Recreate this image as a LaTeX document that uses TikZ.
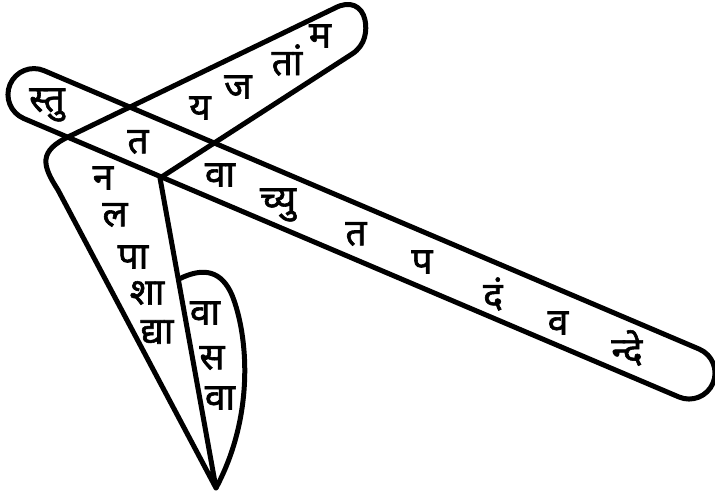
\documentclass[tikz,border=0pt]{standalone}
\usepackage{fontspec}
\newfontfamily\devfont[Script=Devanagari,FakeBold=1.6]{Noto Sans}

\begin{document}
\begin{tikzpicture}[x=1pt,y=-1pt,
  band/.style={draw=black,line width=5pt,line join=round},
  akshara/.style={font=\devfont\fontsize{37}{40}\selectfont,inner sep=0pt}]
  \useasboundingbox (0,0) rectangle (715,498);
  \draw[band] (44.2,70.7) -- (699.2,349.1) arc[start angle=66.97,delta angle=-180,radius=26pt]
    -- (23.8,118.5) arc[start angle=-113.03,delta angle=-180,radius=26pt] -- cycle;
  \draw[band] (160,178) -- (352,54) .. controls (366,45) and (367,30) .. (365,20)
    .. controls (362,6) and (350,0) .. (335,8) -- (70,136)
    .. controls (38,151) and (42,165) .. (58,190) -- (216,488) -- cycle;
  \draw[band] (179,279) .. controls (205,266) and (222,272) .. (232,295)
    .. controls (248,335) and (255,415) .. (216,488);
  \node[akshara] (stu) at (47,105) {स्तु};
  \node[akshara] (ta1) at (138,142) {त};
  \node[akshara] (va1) at (220,175) {वा};
  \node[akshara] (cyu) at (278,205) {च्यु};
  \node[akshara] (ta2) at (356,234) {त};
  \node[akshara] (pa1) at (422,262) {प};
  \node[akshara] (dam) at (493,294) {दं};
  \node[akshara] (va2) at (558,323) {व};
  \node[akshara] (nde) at (627,348) {न्दे};
  \node[akshara] (ya) at (200,108) {य};
  \node[akshara] (ja) at (238,87) {ज};
  \node[akshara] (tam) at (287,60) {तां};
  \node[akshara] (ma) at (320,36) {म};
  \node[akshara] (na) at (103,178) {न};
  \node[akshara] (la) at (115,215) {ल};
  \node[akshara] (pa2) at (133,257) {पा};
  \node[akshara] (sha) at (147,293) {शा};
  \node[akshara] (dya) at (157,332) {द्या};
  \node[akshara] (va3) at (205,313) {वा};
  \node[akshara] (sa) at (212,358) {स};
  \node[akshara] (va4) at (220,398) {वा};
\end{tikzpicture}
\end{document}
